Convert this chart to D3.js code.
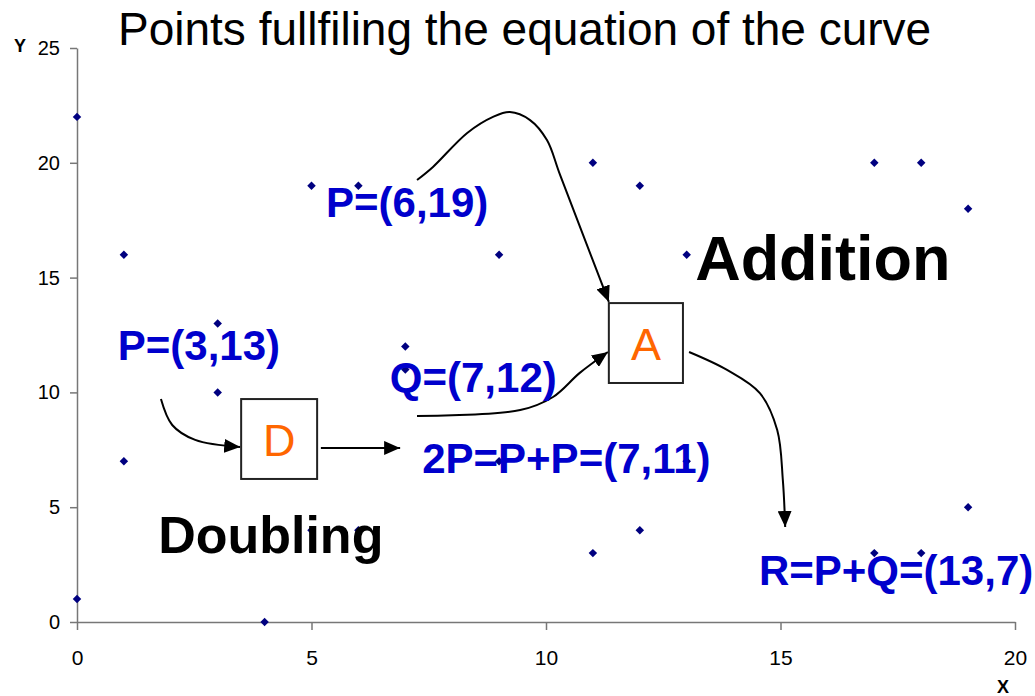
<!DOCTYPE html>
<html lang="en">
<head>
    <meta charset="UTF-8">
    <title>Points fullfiling the equation of the curve</title>
    <script src="https://cdnjs.cloudflare.com/ajax/libs/d3/7.8.5/d3.min.js"></script>
    <style>
        body { margin: 0; background: #fff; }
        svg { font-family: "Liberation Sans", Arial, sans-serif; }
        .axis path, .axis line { stroke: #777; stroke-width: 1.5; }
        .axis text { fill: #000; }
        .lbl { fill: #0000cc; font-weight: bold; font-size: 42px; }
        .big { fill: #000; font-weight: bold; }
        .op { fill: #ff6600; font-size: 45px; text-anchor: middle; }
    </style>
</head>
<body>
<svg id="chart" width="1035" height="696"></svg>
<script>
    // points of y^2 = x^3 + x + 1 (mod 23)
    var xs = [0, 0, 1, 1, 3, 3, 4, 5, 5, 6, 6, 7, 7, 9, 9, 11, 11, 12, 12, 13, 13, 17, 17, 18, 18, 19, 19]
    var ys = [1, 22, 7, 16, 10, 13, 0, 4, 19, 4, 19, 11, 12, 7, 16, 3, 20, 4, 19, 7, 16, 3, 20, 3, 20, 5, 18]
    var xTicks = [0, 5, 10, 15, 20]
    var yTicks = [0, 5, 10, 15, 20, 25]

    // annotation texts, placed in data units
    var labelText = ['P=(6,19)', 'P=(3,13)', 'Q=(7,12)', '2P=P+P=(7,11)', 'R=P+Q=(13,7)']
    var labelX = [5.31, 0.87, 6.67, 7.36, 14.54]
    var labelY = [17.64, 11.41, 10.02, 6.49, 1.61]

    var width = 1035, height = 696
    var x = d3.scaleLinear().domain([0, 20]).range([77, 1015])
    var y = d3.scaleLinear().domain([0, 25]).range([622, 48])

    var svg = d3.select('#chart')

    // axes
    svg.append('g').attr('class', 'axis')
        .attr('transform', 'translate(0,' + y(0) + ')')
        .call(d3.axisBottom(x).tickValues(xTicks).tickSize(8).tickPadding(20).tickSizeOuter(0))
        .selectAll('text').style('font-size', '21px')
    svg.append('g').attr('class', 'axis')
        .attr('transform', 'translate(' + x(0) + ',0)')
        .call(d3.axisLeft(y).tickValues(yTicks).tickSize(7).tickPadding(10).tickSizeOuter(0))
        .selectAll('text').style('font-size', '20px')

    svg.append('text').attr('x', 1003).attr('y', 693)
        .attr('text-anchor', 'middle').style('font-weight', 'bold').style('font-size', '18px').text('X')
    svg.append('text').attr('x', 20).attr('y', 52)
        .attr('text-anchor', 'middle').style('font-weight', 'bold').style('font-size', '18px').text('Y')

    // title
    svg.append('text').attr('x', 118).attr('y', 45)
        .style('font-size', '46px').text('Points fullfiling the equation of the curve')

    // curve points
    var diamond = d3.symbol().type(d3.symbolSquare).size(36)
    svg.append('g').selectAll('path')
        .data(d3.range(xs.length))
        .join('path')
        .attr('d', diamond)
        .attr('fill', '#000080')
        .attr('transform', function(i) {
            return 'translate(' + x(xs[i]) + ',' + y(ys[i]) + ') rotate(45)'
        })

    // arrow heads
    svg.append('defs').append('marker')
        .attr('id', 'head')
        .attr('markerUnits', 'userSpaceOnUse')
        .attr('viewBox', '0 0 16 14')
        .attr('refX', 16).attr('refY', 7)
        .attr('markerWidth', 16).attr('markerHeight', 14)
        .attr('orient', 'auto')
        .append('path').attr('d', 'M0,0 L16,7 L0,14 Z').attr('fill', '#000')

    var arrows = [
        [[1.79, 9.71], [2.03, 8.58], [2.52, 7.93], [3.48, 7.62]],
        [[5.20, 7.58], [6.89, 7.58]],
        [[7.25, 8.97], [9.45, 9.23], [10.15, 9.80], [10.72, 10.85], [11.32, 11.76]],
        [[7.25, 19.25], [7.59, 19.82], [8.32, 21.30], [8.87, 22.00], [9.23, 22.21], [9.66, 21.86],
         [10.02, 20.99], [10.30, 19.47], [11.34, 13.94]],
        [[13.05, 11.76], [13.86, 10.98], [14.56, 9.97], [14.93, 8.36], [15.05, 6.18], [15.10, 4.14]]
    ]
    var line = d3.line()
        .x(function(d) { return x(d[0]) })
        .y(function(d) { return y(d[1]) })
        .curve(d3.curveCatmullRom)
    svg.append('g').selectAll('path')
        .data(arrows)
        .join('path')
        .attr('d', line)
        .attr('fill', 'none')
        .attr('stroke', '#000')
        .attr('stroke-width', 2)
        .attr('marker-end', 'url(#head)')

    // D and A boxes
    var boxes = [
        {t: 'D', x0: 3.50, x1: 5.12, y0: 9.71, y1: 6.23},
        {t: 'A', x0: 11.34, x1: 12.92, y0: 13.89, y1: 10.41}
    ]
    var bx = svg.append('g').selectAll('g').data(boxes).join('g')
    bx.append('rect')
        .attr('x', function(d) { return x(d.x0) })
        .attr('y', function(d) { return y(d.y0) })
        .attr('width', function(d) { return x(d.x1) - x(d.x0) })
        .attr('height', function(d) { return y(d.y1) - y(d.y0) })
        .attr('fill', '#fff').attr('stroke', '#222').attr('stroke-width', 2)
    bx.append('text').attr('class', 'op')
        .attr('x', function(d) { return (x(d.x0) + x(d.x1)) / 2 })
        .attr('y', function(d) { return (y(d.y0) + y(d.y1)) / 2 + 17 })
        .text(function(d) { return d.t })

    // blue point labels
    svg.append('g').selectAll('text')
        .data(labelText)
        .join('text')
        .attr('class', 'lbl')
        .attr('x', function(d, i) { return x(labelX[i]) })
        .attr('y', function(d, i) { return y(labelY[i]) })
        .text(function(d) { return d })

    svg.append('text').attr('class', 'big').style('font-size', '63px')
        .attr('x', x(13.18)).attr('y', y(14.90)).text('Addition')
    svg.append('text').attr('class', 'big').style('font-size', '52px')
        .attr('x', x(1.73)).attr('y', y(3.01)).text('Doubling')
</script>
</body>
</html>
